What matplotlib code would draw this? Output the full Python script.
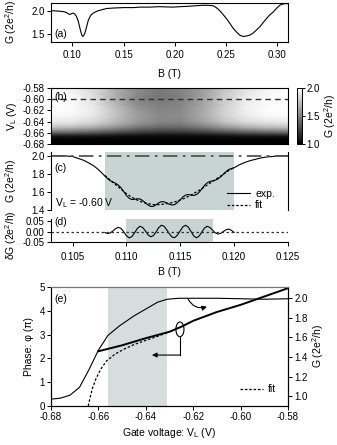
import numpy as np
import matplotlib.pyplot as plt
from matplotlib.patches import Ellipse

plt.rcParams['font.family'] = ['Liberation Sans', 'DejaVu Sans']
plt.rcParams['font.size'] = 7
plt.rcParams['mathtext.fontset'] = 'custom'
plt.rcParams['mathtext.rm'] = 'Liberation Sans'
plt.rcParams['mathtext.it'] = 'Liberation Sans:italic'

# (a) G vs B over wide field range
b_a = [0.0793, 0.083, 0.088, 0.092, 0.0945, 0.0965, 0.0978, 0.0995, 0.101, 0.1025,
       0.1043, 0.106, 0.1075, 0.109, 0.1101, 0.1112, 0.1124, 0.114, 0.1156, 0.118,
       0.1204, 0.125, 0.13, 0.1335, 0.14, 0.15, 0.16, 0.166, 0.175, 0.185,
       0.198, 0.205, 0.2146, 0.22, 0.2273, 0.233, 0.237, 0.239, 0.2415, 0.2439,
       0.247, 0.2503, 0.2535, 0.2568, 0.26, 0.2633, 0.2665, 0.2698, 0.273, 0.276,
       0.2795, 0.2828, 0.286, 0.2893, 0.2925, 0.2957, 0.299, 0.3022, 0.3055, 0.3088, 0.3103]
g_a = [2.01, 2.01, 2.00, 1.99, 1.97, 1.94, 1.93, 1.95, 1.96, 1.94,
       1.88, 1.77, 1.63, 1.50, 1.45, 1.47, 1.53, 1.66, 1.80, 1.91,
       1.96, 2.01, 2.04, 2.06, 2.07, 2.08, 2.08, 2.09, 2.09, 2.10,
       2.09, 2.10, 2.11, 2.12, 2.13, 2.13, 2.12, 2.10, 2.06, 2.01,
       1.93, 1.84, 1.74, 1.63, 1.55, 1.48, 1.45, 1.46, 1.48, 1.52,
       1.59, 1.66, 1.75, 1.84, 1.92, 1.98, 2.06, 2.13, 2.16, 2.17, 2.16]

# (b) colour map G(B, V_L)
b_map = [0.103, 0.105, 0.107, 0.109, 0.111, 0.113, 0.115, 0.117, 0.119, 0.121, 0.123, 0.125]
v_map = [-0.680, -0.675, -0.670, -0.665, -0.660, -0.655, -0.650, -0.645,
         -0.640, -0.630, -0.620, -0.610, -0.600, -0.590, -0.580]
g_map = [
    [1.00, 1.00, 1.00, 1.00, 1.00, 1.00, 1.00, 1.00, 1.00, 1.00, 1.00, 1.00],
    [1.00, 1.00, 1.00, 1.00, 1.00, 1.00, 1.00, 1.00, 1.00, 1.00, 1.00, 1.00],
    [1.02, 1.02, 1.02, 1.02, 1.02, 1.02, 1.02, 1.02, 1.02, 1.02, 1.02, 1.02],
    [1.12, 1.11, 1.10, 1.08, 1.06, 1.05, 1.05, 1.06, 1.08, 1.10, 1.11, 1.12],
    [1.38, 1.36, 1.32, 1.26, 1.21, 1.18, 1.18, 1.21, 1.26, 1.31, 1.35, 1.37],
    [1.58, 1.55, 1.50, 1.42, 1.34, 1.30, 1.30, 1.35, 1.43, 1.50, 1.55, 1.57],
    [1.75, 1.72, 1.66, 1.56, 1.46, 1.40, 1.40, 1.47, 1.58, 1.67, 1.72, 1.74],
    [1.85, 1.83, 1.77, 1.66, 1.55, 1.47, 1.47, 1.56, 1.68, 1.78, 1.83, 1.85],
    [1.92, 1.90, 1.84, 1.72, 1.60, 1.52, 1.52, 1.62, 1.76, 1.86, 1.90, 1.92],
    [1.98, 1.96, 1.90, 1.76, 1.62, 1.54, 1.55, 1.66, 1.82, 1.92, 1.97, 1.98],
    [2.00, 1.98, 1.92, 1.76, 1.60, 1.52, 1.54, 1.66, 1.82, 1.94, 1.99, 2.00],
    [2.00, 1.98, 1.90, 1.72, 1.56, 1.50, 1.52, 1.64, 1.80, 1.93, 1.98, 2.00],
    [2.00, 1.99, 1.88, 1.68, 1.52, 1.46, 1.50, 1.63, 1.80, 1.92, 1.98, 2.00],
    [1.99, 1.96, 1.86, 1.68, 1.54, 1.47, 1.50, 1.62, 1.78, 1.90, 1.97, 2.00],
    [1.98, 1.95, 1.85, 1.68, 1.55, 1.48, 1.52, 1.62, 1.76, 1.88, 1.96, 1.99],
]

# (c)/(d) cut at V_L = -0.60 V
b_fit = [0.10800, 0.10825, 0.10850, 0.10875, 0.10900, 0.10925, 0.10950, 0.10975,
         0.11000, 0.11025, 0.11050, 0.11075, 0.11100, 0.11125, 0.11150, 0.11175,
         0.11200, 0.11225, 0.11250, 0.11275, 0.11300, 0.11325, 0.11350, 0.11375,
         0.11400, 0.11425, 0.11450, 0.11475, 0.11500, 0.11525, 0.11550, 0.11575,
         0.11600, 0.11625, 0.11650, 0.11675, 0.11700, 0.11725, 0.11750, 0.11775,
         0.11800, 0.11825, 0.11850, 0.11875, 0.11900, 0.11925, 0.11950, 0.11975, 0.12000]
g_fit = [1.780, 1.755, 1.730, 1.705, 1.680, 1.655, 1.630, 1.605,
         1.580, 1.560, 1.540, 1.525, 1.510, 1.497, 1.485, 1.477,
         1.470, 1.465, 1.460, 1.459, 1.460, 1.462, 1.465, 1.470,
         1.475, 1.482, 1.490, 1.500, 1.510, 1.522, 1.535, 1.550,
         1.565, 1.582, 1.600, 1.617, 1.635, 1.655, 1.675, 1.695,
         1.715, 1.735, 1.755, 1.775, 1.795, 1.815, 1.835, 1.852, 1.870]
dg = [-0.005, -0.009, -0.007, 0.003, 0.014, 0.020, 0.015, -0.001,
      -0.020, -0.030, -0.025, -0.007, 0.014, 0.025, 0.020, 0.004,
      -0.015, -0.025, -0.020, -0.002, 0.019, 0.030, 0.025, 0.008,
      -0.012, -0.027, -0.029, -0.016, 0.004, 0.023, 0.030, 0.021,
      0.000, -0.021, -0.030, -0.022, -0.0025, 0.017, 0.025, 0.0196,
      0.0065, -0.0066, -0.012, -0.0085, 0.000, 0.0085, 0.012, 0.0057, -0.0039]
b_exp_left = [0.1030, 0.1040, 0.1050, 0.1055, 0.1060, 0.1065, 0.1070, 0.1075]
g_exp_left = [2.000, 2.000, 1.990, 1.970, 1.950, 1.920, 1.885, 1.835]
b_exp_right = [0.1205, 0.1210, 0.1215, 0.1220, 0.1225, 0.1230, 0.1235, 0.1240, 0.1245, 0.1250]
g_exp_right = [1.900, 1.925, 1.945, 1.960, 1.975, 1.985, 1.990, 1.995, 2.000, 2.000]

# (e) phase and conductance vs gate voltage
v_g = [-0.680, -0.676, -0.672, -0.668, -0.664, -0.660, -0.656, -0.651, -0.645,
       -0.640, -0.635, -0.631, -0.626, -0.620, -0.610, -0.600, -0.590, -0.580]
g_e = [0.97, 0.98, 1.01, 1.09, 1.27, 1.47, 1.62, 1.72, 1.82,
       1.89, 1.96, 1.99, 2.00, 2.00, 2.00, 1.995, 1.99, 1.995]
v_ph = [-0.660, -0.650, -0.640, -0.630, -0.625, -0.620, -0.610, -0.600, -0.590, -0.580]
phase = [2.30, 2.55, 2.85, 3.12, 3.33, 3.58, 3.95, 4.25, 4.60, 4.95]
v_phfit = [-0.6643, -0.6635, -0.6625, -0.6610, -0.6590, -0.6565, -0.6530, -0.6490,
           -0.6450, -0.6400, -0.6350, -0.6310]
phase_fit = [0.0, 0.35, 0.75, 1.15, 1.55, 1.90, 2.18, 2.40, 2.58, 2.76, 2.93, 3.08]

W, H = 337, 445
fig = plt.figure(figsize=(W / 100, H / 100), dpi=100)


def box(l, t, r, b):
    return [l / W, 1 - b / H, (r - l) / W, (b - t) / H]


def style(ax):
    ax.tick_params(direction='out', length=3, width=0.7, labelsize=7, pad=1.5)
    for s in ax.spines.values():
        s.set_linewidth(0.8)


shade = '#c8d3d3'
ylab_x = -0.135

# ---- (a)
ax_a = fig.add_axes(box(51, 3, 288, 42))
ax_a.plot(b_a, g_a, color='k', lw=0.8)
ax_a.set_xlim(0.0793, 0.3103)
ax_a.set_ylim(1.33, 2.18)
ax_a.set_xticks([0.10, 0.15, 0.20, 0.25, 0.30])
ax_a.set_xticklabels(['0.10', '0.15', '0.20', '0.25', '0.30'])
ax_a.set_yticks([1.5, 2.0])
ax_a.set_yticklabels(['1.5', '2.0'])
ax_a.set_xlabel('B (T)', fontsize=7.5, labelpad=6)
ax_a.set_ylabel('G (2e$^2$/h)', fontsize=7.5)
ax_a.yaxis.set_label_coords(ylab_x, 0.5)
ax_a.text(0.015, 0.2, '(a)', transform=ax_a.transAxes, fontsize=7.5, va='center')
style(ax_a)
ax_a.tick_params(axis='x', pad=3)

# ---- (b)
ax_b = fig.add_axes(box(51, 88, 288, 144))
mesh = ax_b.pcolormesh(b_map, v_map, np.array(g_map), shading='gouraud',
                       cmap='gray', vmin=1.0, vmax=2.0)
ax_b.axhline(-0.60, color='#333333', lw=1.0, ls=(0, (4, 3)))
ax_b.set_xlim(0.103, 0.125)
ax_b.set_ylim(-0.68, -0.58)
ax_b.set_yticks([-0.68, -0.66, -0.64, -0.62, -0.60, -0.58])
ax_b.set_yticklabels(['-0.68', '-0.66', '-0.64', '-0.62', '-0.60', '-0.58'])
ax_b.set_xticks([])
ax_b.set_ylabel('V$_\\mathregular{L}$ (V)', fontsize=7.5)
ax_b.yaxis.set_label_coords(ylab_x, 0.5)
ax_b.text(0.015, 0.84, '(b)', transform=ax_b.transAxes, fontsize=7.5, va='center')
style(ax_b)

cax = fig.add_axes(box(297, 88, 302, 144))
cb = fig.colorbar(mesh, cax=cax, ticks=[1.0, 1.5, 2.0])
cb.ax.set_yticklabels(['1.0', '1.5', '2.0'])
cb.ax.tick_params(direction='out', length=2, width=0.7, labelsize=7, pad=1)
cb.outline.set_linewidth(0.7)
cb.set_label('G (2e$^2$/h)', fontsize=7.5, labelpad=2)

# ---- (c)
ax_c = fig.add_axes(box(51, 152, 288, 210))
ax_c.axvspan(0.108, 0.120, color=shade, lw=0)
g_exp_mid = np.array(g_fit) + np.array(dg)
ax_c.plot(b_exp_left + b_fit + b_exp_right,
          g_exp_left + list(g_exp_mid) + g_exp_right, color='k', lw=0.8, label='exp.')
ax_c.plot(b_fit, g_fit, color='k', lw=0.9, ls=(0, (2, 1.5)), label='fit')
ax_c.axhline(2.0, color='#555555', lw=1.3, ls=(0, (8, 3, 1.5, 3)))
ax_c.set_xlim(0.103, 0.125)
ax_c.set_ylim(1.4, 2.04)
ax_c.set_yticks([1.4, 1.6, 1.8, 2.0])
ax_c.set_yticklabels(['1.4', '1.6', '1.8', '2.0'])
ax_c.set_xticks([])
ax_c.spines['top'].set_visible(False)
ax_c.spines['bottom'].set_visible(False)
ax_c.set_ylabel('G (2e$^2$/h)', fontsize=7.5)
ax_c.yaxis.set_label_coords(ylab_x, 0.5)
ax_c.text(0.015, 0.72, '(c)', transform=ax_c.transAxes, fontsize=7.5, va='center')
ax_c.text(0.015, 0.12, 'V$_\\mathregular{L}$ = -0.60 V', transform=ax_c.transAxes,
          fontsize=7.5, va='center')
ax_c.legend(loc='lower right', bbox_to_anchor=(0.985, -0.17), frameon=False,
            fontsize=7.5, handlelength=2.2, handletextpad=0.5, labelspacing=0.15)
style(ax_c)

# ---- (d)
ax_d = fig.add_axes(box(51, 219, 288, 242))
ax_d.axvspan(0.110, 0.118, color=shade, lw=0)
ax_d.plot(b_fit, dg, color='k', lw=0.8)
ax_d.axhline(0.0, color='#333333', lw=0.9, ls=(0, (2, 2)))
ax_d.set_xlim(0.103, 0.125)
ax_d.set_ylim(-0.05, 0.06)
ax_d.set_yticks([-0.05, 0.0, 0.05])
ax_d.set_yticklabels(['-0.05', '0.00', '0.05'])
ax_d.set_xticks([0.105, 0.110, 0.115, 0.120, 0.125])
ax_d.set_xticklabels(['0.105', '0.110', '0.115', '0.120', '0.125'])
ax_d.spines['top'].set_visible(False)
ax_d.spines['right'].set_visible(False)
ax_d.set_xlabel('B (T)', fontsize=7.5, labelpad=4)
ax_d.set_ylabel('δG (2e$^2$/h)', fontsize=7.5)
ax_d.yaxis.set_label_coords(ylab_x, 0.3)
ax_d.text(0.015, 0.85, '(d)', transform=ax_d.transAxes, fontsize=7.5, va='center')
style(ax_d)
ax_d.tick_params(axis='x', pad=4)

# ---- (e)
ax_e = fig.add_axes(box(51, 287, 288, 406))
ax_e.axvspan(-0.656, -0.631, color='#d5dddd', lw=0)
ax_e.plot(v_ph, phase, color='k', lw=1.4, zorder=3)
ax_e.plot(v_phfit, phase_fit, color='k', lw=0.9, ls=(0, (2, 1.5)), label='fit', zorder=3)
ax_e.set_xlim(-0.68, -0.58)
ax_e.set_ylim(0, 5)
ax_e.set_xticks([-0.68, -0.66, -0.64, -0.62, -0.60, -0.58])
ax_e.set_xticklabels(['-0.68', '-0.66', '-0.64', '-0.62', '-0.60', '-0.58'])
ax_e.set_yticks([0, 1, 2, 3, 4, 5])
ax_e.set_xlabel('Gate voltage: V$_\\mathregular{L}$ (V)', fontsize=7.5, labelpad=3)
ax_e.set_ylabel('Phase: φ (π)', fontsize=7.5)
ax_e.spines['top'].set_color('#777777')
ax_e.spines['top'].set_linewidth(1.6)
ax_e.text(0.015, 0.9, '(e)', transform=ax_e.transAxes, fontsize=7.5, va='center')
ax_e.legend(loc='lower right', bbox_to_anchor=(0.99, 0.02), frameon=False,
            fontsize=7.5, handlelength=2.2, handletextpad=0.5)
style(ax_e)

ax_e2 = ax_e.twinx()
ax_e2.plot(v_g, g_e, color='k', lw=0.8)
ax_e2.set_ylim(0.9, 2.115)
ax_e2.set_yticks([1.0, 1.2, 1.4, 1.6, 1.8, 2.0])
ax_e2.set_yticklabels(['1.0', '1.2', '1.4', '1.6', '1.8', '2.0'])
ax_e2.set_ylabel('G (2e$^2$/h)', fontsize=7.5, labelpad=2)
ax_e2.spines['top'].set_color('#777777')
ax_e2.spines['top'].set_linewidth(1.6)
style(ax_e2)

# annotations: ellipse -> left axis, curved arrow -> right axis
ax_e.add_patch(Ellipse((-0.6256, 3.22), 0.0034, 0.62, fill=False, ec='k', lw=0.8, zorder=4))
ax_e.plot([-0.6256, -0.6256], [2.91, 2.14], color='k', lw=0.8)
ax_e.annotate('', xy=(-0.6374, 2.14), xytext=(-0.6256, 2.14),
              arrowprops=dict(arrowstyle='-|>', color='k', lw=0.8,
                              mutation_scale=7, shrinkA=0, shrinkB=0))
ax_e.annotate('', xy=(-0.6142, 4.17), xytext=(-0.6222, 4.5),
              arrowprops=dict(arrowstyle='-|>', color='k', lw=0.8, mutation_scale=7,
                              connectionstyle='arc3,rad=0.4', shrinkA=0, shrinkB=0))

fig.savefig('out.png', dpi=100)
